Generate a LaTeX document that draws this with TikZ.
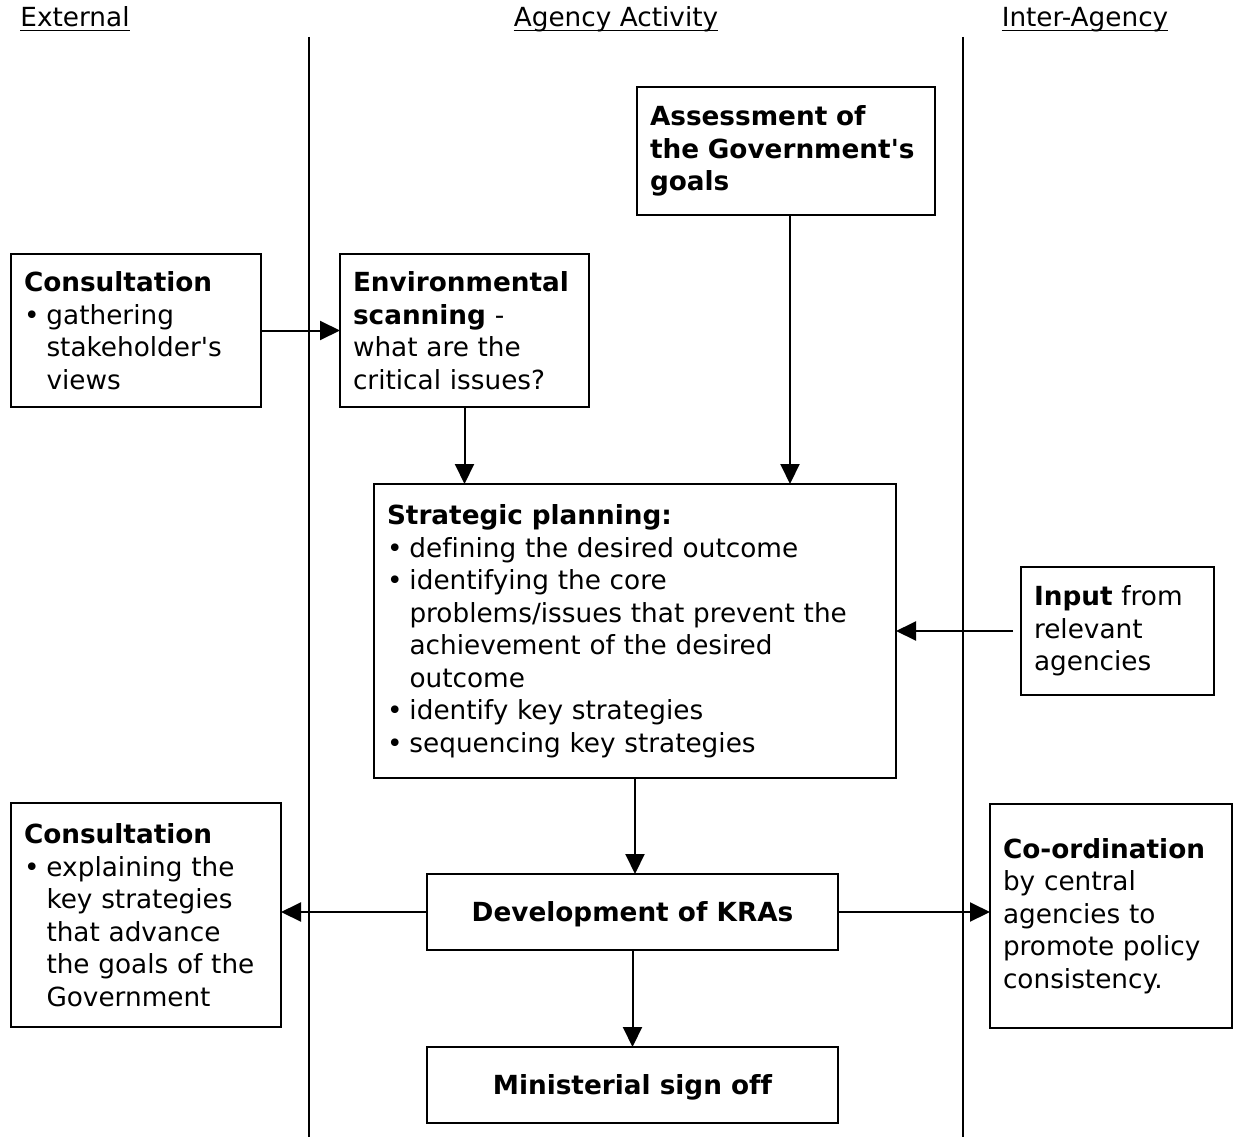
\documentclass[tikz,border=0pt]{standalone}
\usepackage{fontspec}
\setmainfont{DejaVu Sans}[Ligatures={TeXOff,CommonOff}]
\usetikzlibrary{arrows.meta}
\newcommand{\bitem}{\par\hangindent=22.5pt\hangafter=1\noindent\makebox[22.5pt][l]{•}}
\begin{document}
\begin{tikzpicture}[x=1pt,y=1pt,
  txt/.style={font=\fontsize{26.3}{32.5}\selectfont},
  hdr/.style={txt, inner sep=0pt, anchor=base},
  box/.style={txt, draw, line width=1.9pt, inner xsep=13pt, inner ysep=0pt, outer sep=0pt, align=left},
  cbox/.style={draw, line width=1.9pt, inner sep=0pt, outer sep=0pt, align=center,
    text height=22pt, text depth=3pt, font=\fontsize{26.3}{32.5}\selectfont\bfseries},
  arr/.style={line width=2pt, -{Triangle[length=20pt,width=19pt]}},
  sep/.style={line width=1.6pt}
]
\useasboundingbox (0,0) rectangle (1233,-1137);

% headers
\node[hdr] (hext) at (75,-27) {External};
\node[hdr] (hag) at (616,-27) {Agency Activity};
\node[hdr] (hint) at (1085,-27) {Inter-Agency};
\foreach \h in {hext,hag,hint}
  \draw[line width=1.4pt] ([yshift=-3.5pt]\h.base west) -- ([yshift=-3.5pt]\h.base east);

% lane separators
\coordinate (s1t) at (309,-37); \coordinate (s1b) at (309,-1137);
\coordinate (s2t) at (963,-37); \coordinate (s2b) at (963,-1137);
\draw[sep] (s1t) -- (s1b);
\draw[sep] (s2t) -- (s2b);

% boxes
\node[box, minimum width=298pt, minimum height=128pt, text width=272pt] (assess) at (786,-151)
  {\textbf{Assessment of}\newline \textbf{the Government's}\newline \textbf{goals}\par};

\node[box, minimum width=250pt, minimum height=153pt, text width=224pt, fill=white] (cons1) at (136,-330.5)
  {\textbf{Consultation}\bitem gathering\newline stakeholder's\newline views\par};

\node[box, minimum width=249pt, minimum height=153pt, text width=223pt, fill=white] (env) at (464.5,-330.5)
  {\textbf{Environmental}\newline \textbf{scanning} -\newline what are the\newline critical issues?\par};

\node[box, minimum width=522pt, minimum height=294pt, text width=496pt] (strat) at (635,-631)
  {\textbf{Strategic planning:}%
   \bitem defining the desired outcome%
   \bitem identifying the core\newline problems/issues that prevent the\newline achievement of the desired\newline outcome%
   \bitem identify key strategies%
   \bitem sequencing key strategies\par};

\node[box, minimum width=193pt, minimum height=128pt, text width=167pt] (input) at (1117.5,-631)
  {\textbf{Input} from\newline relevant\newline agencies\par};

\node[cbox, minimum width=411pt, minimum height=76pt] (dev) at (632.5,-912) {Development of KRAs};
\node[cbox, minimum width=411pt, minimum height=76pt, fill=white] (mini) at (632.5,-1085) {Ministerial sign off};

\node[box, minimum width=270pt, minimum height=224pt, text width=244pt] (cons2) at (146,-915)
  {\textbf{Consultation}\bitem explaining the\newline key strategies\newline that advance\newline the goals of the\newline Government\par};

\node[box, minimum width=242pt, minimum height=224pt, text width=216pt] (coord) at (1111,-916)
  {\textbf{Co-ordination}\newline by central\newline agencies to\newline promote policy\newline consistency.\par};

% connectors
\draw[arr] (cons1.east) -- (env.west);
\draw[arr] (env.south) -- (env.south |- strat.north);
\draw[arr] ([xshift=4pt]assess.south) -- ([xshift=4pt]assess.south |- strat.north);
\draw[arr, shorten <=8pt] (input.west) -- (strat.east);
\draw[arr] (strat.south) -- (strat.south |- dev.north);
\draw[arr] (dev.south) -- (mini.north);
\draw[arr] (dev.west) -- (dev.west -| cons2.east);
\draw[arr] (dev.east) -- (dev.east -| coord.west);
\end{tikzpicture}
\end{document}
